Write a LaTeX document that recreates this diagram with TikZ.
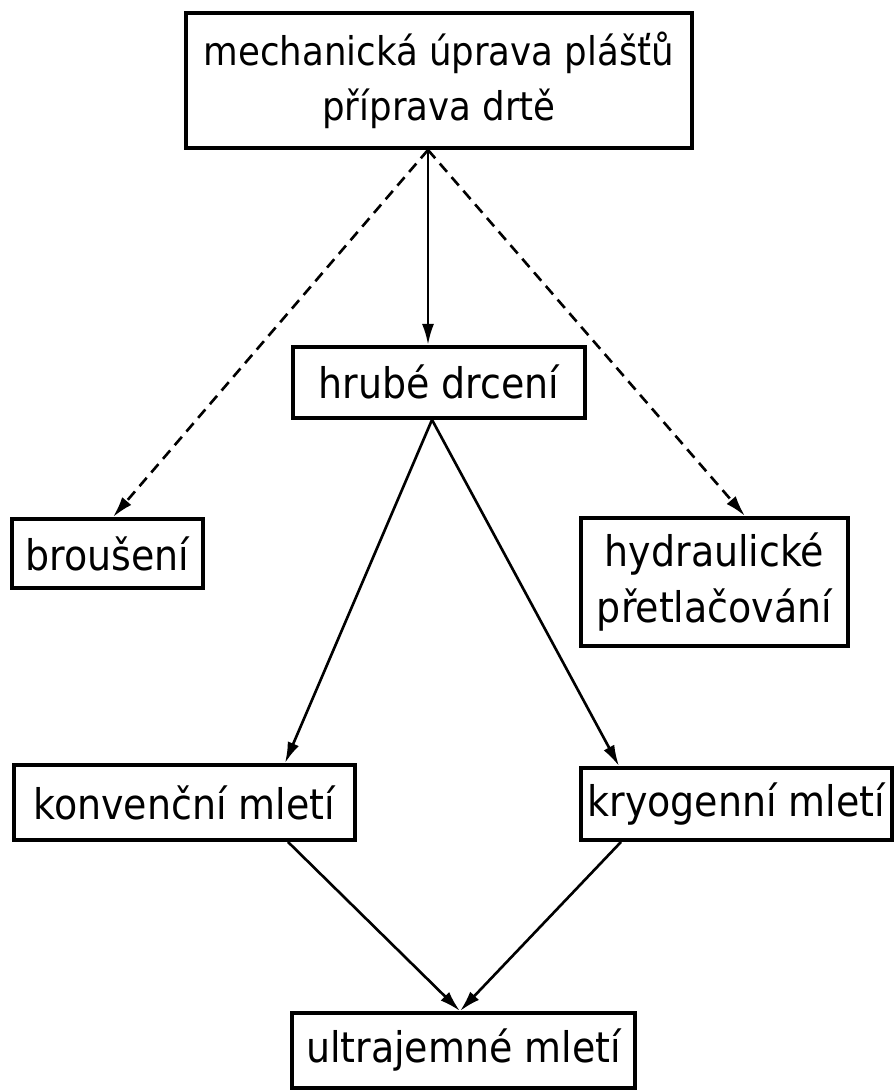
\documentclass[tikz,border=0pt]{standalone}
\usepackage{fontspec}
\setmainfont{DejaVu Sans Condensed}
\usetikzlibrary{arrows.meta,positioning}
\tikzset{
    stage/.style = { draw, line width=2.2pt, rectangle, align=center,
        inner sep=0pt,
        font=\fontsize{24}{32}\selectfont
    },
    arrow/.style = { line width=1.5pt, -{Latex[length=0.42cm,width=0.24cm]} },
    darrow/.style = { arrow, dash pattern=on 0.22cm off 0.14cm }
}
\begin{document}
\begin{tikzpicture}
        \useasboundingbox (0,0) rectangle (17.88,-21.8);

        % top stage...
        \node[stage, minimum width=10.12cm, minimum height=2.7cm,
            font=\fontsize{22.5}{31}\selectfont] (mech) at (8.78,-1.61)
            {mechanická úprava plášťů\\příprava drtě};
        \node[stage, minimum width=5.84cm, minimum height=1.42cm] (hrub) [below=3.9cm of mech] {hrubé drcení};
        % side branches...
        \node[stage, minimum width=3.82cm, minimum height=1.38cm] (brous) at (2.15,-11.07) {broušení};
        \node[stage, minimum width=5.34cm, minimum height=2.56cm] (hydr) at (14.29,-11.64)
            {hydraulické\\přetlačování};
        % milling...
        \node[stage, minimum width=6.82cm, minimum height=1.5cm] (konv) at (3.69,-16.05) {konvenční mletí};
        \node[stage, minimum width=6.22cm, minimum height=1.44cm] (kryo) at (14.73,-16.08) {kryogenní mletí};
        \node[stage, minimum width=6.86cm, minimum height=1.5cm] (ultra) at (9.27,-21.01) {ultrajemné mletí};

        % arrows...
        \draw[arrow] ([xshift=-0.22cm]mech.south) -- ([xshift=-0.22cm]hrub.north);
        \draw[darrow] ([xshift=-0.22cm]mech.south) -- ([xshift=0.11cm]brous.north);
        \draw[darrow] ([xshift=-0.22cm]mech.south) -- ([xshift=0.61cm]hydr.north);
        \draw[arrow] ([xshift=-0.14cm]hrub.south) -- ([xshift=2.01cm]konv.north);
        \draw[arrow] ([xshift=-0.14cm]hrub.south) -- ([xshift=-2.35cm]kryo.north);
        \draw[arrow] ([xshift=2.07cm]konv.south) -- ([xshift=-0.07cm]ultra.north);
        \draw[arrow] ([xshift=-2.31cm]kryo.south) -- ([xshift=-0.07cm]ultra.north);
\end{tikzpicture}
\end{document}
